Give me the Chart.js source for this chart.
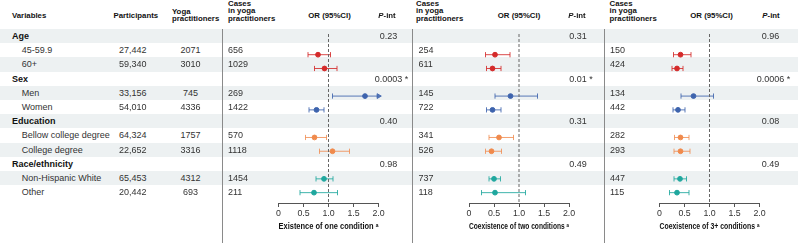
<!DOCTYPE html>
<html>
<head>
<meta charset="utf-8">
<script src="https://cdn.jsdelivr.net/npm/chart.js@4.4.1/dist/chart.umd.min.js"></script>
<style>
  body { margin: 0; background: #fff; font-family: "Liberation Sans", Arial, sans-serif; }
  #wrap { position: relative; width: 798px; height: 243px; overflow: hidden; }
  .shade { position: absolute; left: 0; width: 798px; background: #edf1f2; }
  .sep { position: absolute; top: 29px; width: 1px; height: 214px; background: #8a8a8a; }
  .t { position: absolute; white-space: nowrap; font-size: 9px; color: #333; }
  .b { font-weight: bold; color: #111; }
  .h { position: absolute; white-space: nowrap; font-size: 7.8px; line-height: 7.8px; font-weight: bold; color: #111; }
  canvas { position: absolute; top: 29px; }
</style>
</head>
<body>
<div id="wrap">
  <canvas id="c1" width="190" height="214"></canvas>
  <canvas id="c2" width="190" height="214"></canvas>
  <canvas id="c3" width="190" height="214"></canvas>
</div>
<script>
// Table contents
const groups = ['Age', 'Sex', 'Education', 'Race/ethnicity'];
const subgroups = ['45-59.9', '60+', 'Men', 'Women', 'Bellow college degree', 'College degree', 'Non-Hispanic White', 'Other'];
const participants = ['27,442', '59,340', '33,156', '54,010', '64,324', '22,652', '65,453', '20,442'];
const yogaPractitioners = ['2071', '3010', '745', '4336', '1757', '3316', '4312', '693'];

// Cases in yoga practitioners, per panel
const casesOne = ['656', '1029', '269', '1422', '570', '1118', '1454', '211'];
const casesTwo = ['254', '611', '145', '722', '341', '526', '737', '118'];
const casesThree = ['150', '424', '134', '442', '282', '293', '447', '115'];

// P for interaction, one per group
const pOne = ['0.23', '0.0003 *', '0.40', '0.98'];
const pTwo = ['0.31', '0.01 *', '0.31', '0.49'];
const pThree = ['0.96', '0.0006 *', '0.08', '0.49'];

// Odds ratios and 95% CI
const orOne = [0.79, 0.92, 1.73, 0.76, 0.72, 1.08, 0.91, 0.71];
const loOne = [0.59, 0.72, 1.08, 0.61, 0.54, 0.82, 0.75, 0.43];
const hiOne = [1.04, 1.17, 2.60, 0.91, 0.96, 1.42, 1.09, 1.18];

const orTwo = [0.52, 0.47, 0.83, 0.47, 0.60, 0.45, 0.50, 0.52];
const loTwo = [0.33, 0.35, 0.52, 0.35, 0.40, 0.33, 0.40, 0.25];
const hiTwo = [0.82, 0.64, 1.37, 0.64, 0.89, 0.65, 0.63, 1.13];

const orThree = [0.42, 0.35, 0.68, 0.37, 0.42, 0.42, 0.41, 0.35];
const loThree = [0.28, 0.25, 0.43, 0.27, 0.30, 0.29, 0.29, 0.20];
const hiThree = [0.63, 0.47, 1.08, 0.51, 0.59, 0.61, 0.54, 0.59];

const axisTicks = [0, 0.5, 1, 1.5, 2];
const nullOR = 1;
const panelTitles = ['Existence of one condition \u1d43', 'Coexistence of two conditions \u1d43', 'Coexistence of 3+ conditions \u1d43'];

const groupColors = ['#d42a2a', '#3d63ad', '#f08a4c', '#1fa79e'];
const groupLineColors = ['rgba(212,42,42,0.85)', 'rgba(61,99,173,0.85)', 'rgba(240,138,76,0.8)', 'rgba(31,167,158,0.85)'];

const ROW_TOP = 29;
const ROW_H = 14.2;
const Y_MIN = -0.5;
const Y_MAX = 11.75;

const wrap = document.getElementById('wrap');

function rowOfSub(k) { return 3 * Math.floor(k / 2) + 1 + (k % 2); }

function cell(txt, x, row, opts = {}) {
    const d = document.createElement('div');
    d.className = 't' + (opts.bold ? ' b' : '');
    d.style.left = x + 'px';
    d.style.top = (ROW_TOP + row * ROW_H) + 'px';
    d.style.height = ROW_H + 'px';
    d.style.lineHeight = ROW_H + 'px';
    if (opts.center) d.style.transform = 'translateX(-50%)';
    // keep the star outside the centred number
    const m = txt.match(/^(\S+)( \*)$/);
    if (m) {
        d.textContent = m[1];
        const s = document.createElement('span');
        s.textContent = '\u00a0*';
        s.style.position = 'absolute';
        s.style.left = '100%';
        d.appendChild(s);
    } else {
        d.textContent = txt;
    }
    wrap.appendChild(d);
}

// row shading (every other row, starting with the first group)
for (let r = 0; r < 12; r += 2) {
    const s = document.createElement('div');
    s.className = 'shade';
    s.style.top = (ROW_TOP + r * ROW_H) + 'px';
    s.style.height = ROW_H + 'px';
    wrap.insertBefore(s, wrap.firstChild);
}

// column separators
[222, 412, 604].forEach(x => {
    const s = document.createElement('div');
    s.className = 'sep';
    s.style.left = x + 'px';
    wrap.appendChild(s);
});

// headers
function header(html, x, top, center) {
    const d = document.createElement('div');
    d.className = 'h';
    d.style.left = x + 'px';
    d.style.top = top + 'px';
    if (center) d.style.transform = 'translateX(-50%)';
    d.innerHTML = html;
    wrap.appendChild(d);
}
header('Variables', 12, 11.8);
header('Participants', 113.5, 11.8);
header('Yoga<br>practitioners', 172, 7.6);

const casesHeaderX = [228, 416, 609.5];
const orHeaderX = [329.5, 519, 711.5];
const pHeaderX = [387, 577, 771];
const casesX = [228, 418.5, 610];
const pX = [388.5, 578, 770.5];
const allCases = [casesOne, casesTwo, casesThree];
const allP = [pOne, pTwo, pThree];

for (let p = 0; p < 3; p++) {
    header('Cases<br>in yoga<br>practitioners', casesHeaderX[p], -0.4);
    header('OR (95%CI)', orHeaderX[p], 11.8, true);
    header('<i>P</i>-int', pHeaderX[p], 11.8, true);
}

// table body
groups.forEach((g, i) => {
    const row = 3 * i;
    cell(g, 12, row, { bold: true });
    for (let p = 0; p < 3; p++) cell(allP[p][i], pX[p], row, { center: true });
});
subgroups.forEach((s, k) => {
    const row = rowOfSub(k);
    cell(s, 21.7, row);
    cell(participants[k], 119, row);
    cell(yogaPractitioners[k], 190.5, row, { center: true });
    for (let p = 0; p < 3; p++) cell(allCases[p][k], casesX[p], row);
});

// forest plots
Chart.defaults.font.family = "'Liberation Sans', 'DejaVu Sans', Arial, sans-serif";
Chart.defaults.color = '#333';

const panels = [
    { id: 'c1', left: 233, padLeft: 45.5, or: orOne, lo: loOne, hi: hiOne },
    { id: 'c2', left: 424, padLeft: 45, or: orTwo, lo: loTwo, hi: hiTwo },
    { id: 'c3', left: 614, padLeft: 45.5, or: orThree, lo: loThree, hi: hiThree }
];

panels.forEach((panel, p) => {
    const xMax = axisTicks[axisTicks.length - 1];
    const datasets = [{
        type: 'line',
        data: [{ x: nullOR, y: Y_MIN }, { x: nullOR, y: Y_MAX }],
        borderColor: '#666',
        borderWidth: 1,
        borderDash: [3, 2],
        pointRadius: 0,
        clip: false
    }];
    panel.or.forEach((v, k) => {
        const g = Math.floor(k / 2);
        const row = rowOfSub(k);
        const clipped = panel.hi[k] > xMax;
        const color = groupColors[g];
        const lineColor = groupLineColors[g];
        datasets.push({
            type: 'line',
            data: [
                { x: panel.lo[k], y: row },
                { x: v, y: row },
                { x: clipped ? xMax : panel.hi[k], y: row }
            ],
            borderColor: lineColor,
            borderWidth: 1,
            pointStyle: ['line', 'circle', clipped ? 'triangle' : 'line'],
            rotation: [90, 0, 90],
            pointRadius: [2.6, 2.4, clipped ? 2.8 : 2.6],
            pointBackgroundColor: [lineColor, color, lineColor],
            pointBorderColor: [lineColor, color, lineColor],
            pointBorderWidth: 1,
            clip: false
        });
    });

    const canvas = document.getElementById(panel.id);
    canvas.style.left = panel.left + 'px';
    new Chart(canvas, {
        type: 'line',
        data: { datasets },
        options: {
            responsive: false,
            animation: false,
            events: [],
            layout: { padding: { left: panel.padLeft, right: 190 - 100 - panel.padLeft, top: 0, bottom: 0 } },
            plugins: { legend: { display: false }, tooltip: { enabled: false } },
            scales: {
                x: {
                    type: 'linear',
                    min: axisTicks[0],
                    max: xMax,
                    afterBuildTicks: s => { s.ticks = axisTicks.map(v => ({ value: v })); },
                    ticks: { color: '#333', font: { size: 8.8 }, padding: 1.5, maxRotation: 0, autoSkip: false },
                    grid: { drawOnChartArea: false, drawTicks: true, tickLength: 4, color: '#555', lineWidth: 1 },
                    border: { display: true, color: '#555', width: 1 },
                    title: {
                        display: true,
                        text: panelTitles[p],
                        color: '#111',
                        font: { size: 8.2, weight: 'bold' },
                        padding: { top: 0, bottom: 11 }
                    },
                    afterFit: s => { s.height = 40; }
                },
                y: { type: 'linear', reverse: true, min: Y_MIN, max: Y_MAX, display: false }
            }
        }
    });
});
</script>
</body>
</html>
